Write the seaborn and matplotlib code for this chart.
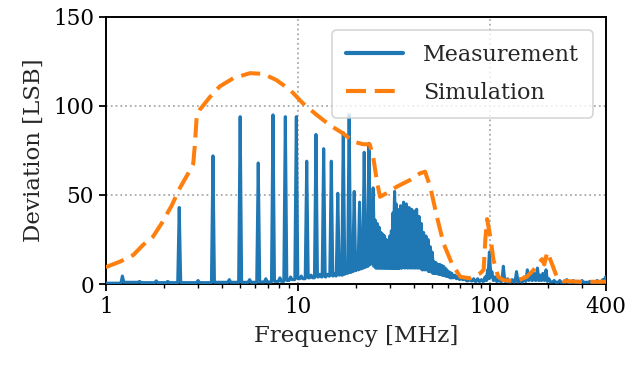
import numpy as np
import pandas as pd
import matplotlib
matplotlib.use("Agg")
import matplotlib.pyplot as plt
import seaborn as sns
from matplotlib.ticker import NullFormatter

# ---- Measurement: spectral lines (MHz) with peak deviation and the floor level after each line
meas_peak_freq = [1.22, 1.50, 1.83, 2.10, 2.41, 3.02, 3.61, 4.39, 5.00, 5.60, 6.21, 6.80, 7.41, 8.05,
                  8.59, 9.15, 9.80, 10.4, 11.1, 11.7, 12.4, 13.0, 13.6, 14.2, 14.9, 15.5, 16.1, 16.7,
                  17.2, 17.8, 18.45, 19.0, 19.6, 20.3, 20.9, 21.5, 22.1, 22.75, 23.4, 24.0, 24.6,
                  25.2, 25.8, 26.4, 27.0, 27.6, 28.2, 28.8, 29.4, 30.0, 30.6, 31.2, 31.8, 32.4, 33.0,
                  33.6, 34.2, 35.4, 36.6, 37.8, 39.0, 40.2, 41.4,
                  42.6, 43.8, 45.0, 46.3, 47.5, 48.7, 49.9, 51.1, 52.3, 53.5, 54.7, 55.9, 57.1, 58.3,
                  59.5, 60.7, 61.9, 63.1, 65.5, 68.0, 70.5,
                  74, 78, 82, 86, 90, 94, 97, 99, 102, 106, 111, 117, 123, 130, 137, 143, 150, 156,
                  162, 169, 176, 182, 188, 195, 202, 215, 230, 250, 270, 300, 330, 360, 385, 398]
meas_peak_dev = [4.5, 1.5, 1.8, 1.5, 43, 2.0, 72, 2.5, 94, 2.5, 68, 3.0, 95, 3.5,
                 94, 4.0, 94, 4.5, 69, 5, 84, 5.5, 76, 5.5, 69, 6, 51, 6.5,
                 85, 7, 95, 8, 52, 9, 46, 10, 74, 12, 79, 15, 54,
                 36, 34, 32, 29, 28, 27, 25, 24, 27, 30, 40, 52, 45, 42,
                 40, 44, 46, 45, 43, 42, 41, 42,
                 38, 34, 29, 27, 25, 21, 18, 12.5, 12, 11, 11, 10.5, 10, 9,
                 8, 7, 6.5, 6, 5, 4.5, 4,
                 3.5, 3.5, 3, 3, 2.5, 4, 8, 18, 7, 4, 3.5, 10, 3, 2.5, 7, 3, 4, 8,
                 5, 6, 9, 5, 6, 8, 3, 2, 2, 2.5, 2, 2, 1.5, 2, 2.5, 4]
meas_floor_dev = [1.0, 0.8, 0.8, 0.8, 0.8, 0.8, 1.0, 1.0, 1.0, 1.0, 1.2, 1.2, 1.5, 1.5,
                  2.0, 2.5, 3.0, 3.0, 3.5, 3.5, 4, 4, 4, 4.5, 4.5, 4.5, 5, 5,
                  5.5, 6, 6.5, 7, 7.5, 8, 8.5, 9, 9.5, 10, 11, 12, 10,
                  9, 9, 9, 9, 9, 9, 9, 9, 9, 9, 9, 9, 9, 9,
                  9, 9, 9, 9, 9, 9, 9, 9,
                  9, 8, 8, 8, 7, 7, 6, 6, 6, 5.5, 5.5, 5, 5, 4.5,
                  4.5, 4, 3.5, 3.5, 3, 2.5, 2.5,
                  1.8, 1.8, 1.5, 1.5, 1.5, 2, 3, 4, 2, 1.5, 1.5, 1.5, 1.2, 1.2, 1.2, 1.2, 1.5, 2,
                  2, 2, 2, 2, 2, 1.5, 1.2, 1.0, 1.0, 1.0, 1.0, 1.0, 1.0, 1.0, 1.5, 3]
meas_start_dev = 0.5

# ---- Simulation curve
sim_freq = [1.0, 1.18, 1.39, 1.56, 1.76, 1.95, 2.20, 2.43, 2.68, 2.85, 2.91, 2.97, 3.09, 3.48, 3.92,
            4.61, 5.63, 6.6, 7.7, 9.1, 10.6, 12.5, 14.6, 17.2, 19.4, 21.8, 23.6, 24.6, 25.7, 26.7,
            28.9, 32.7, 38.2, 43.2, 45.8, 48.7, 52.8, 57.1, 63.1, 69.8, 78.6, 88.6, 92.4, 94.3, 96.3,
            100, 104, 110, 117, 137, 155, 168, 178, 186, 191, 198, 209, 222, 240, 294, 400]
sim_dev = [9.5, 12.5, 16.3, 21.9, 26.6, 34, 44, 54, 62, 67.5, 79, 94, 98, 105, 111,
           115.6, 118.4, 118, 114.6, 109, 101.5, 95, 89.3, 84.5, 80, 78.5, 78.5, 71.5, 58, 49,
           51, 54.7, 58.4, 62.2, 63.1, 54.7, 37.8, 22.9, 11.6, 4.1, 3.2, 6, 8, 25, 36.5,
           26.6, 13.5, 4.1, 2.2, 1.7, 4.1, 7.9, 11.6, 14, 11, 18, 11.6, 4.1, 1.7, 1.3, 1.3]

x_ticks = [1, 10, 100, 400]
x_tick_labels = ["1", "10", "100", "400"]
y_ticks = [0, 50, 100, 150]

# ---- build measurement polyline from the line list (narrow spikes)
half_width = 0.018
mx, my = [1.0], [meas_start_dev]
prev_floor = meas_start_dev
for f, p, fl in zip(meas_peak_freq, meas_peak_dev, meas_floor_dev):
    mx += [f * (1 - half_width), f, f * (1 + half_width)]
    my += [prev_floor, p, fl]
    prev_floor = fl
mx.append(400.0)
my.append(prev_floor)

meas_df = pd.DataFrame({"freq": mx, "dev": my, "series": "Measurement"})
sim_df = pd.DataFrame({"freq": sim_freq, "dev": sim_dev, "series": "Simulation"})

sns.set_theme(style="ticks")
plt.rcParams["font.family"] = ["DejaVu Serif"]
plt.rcParams["mathtext.fontset"] = "dejavuserif"

fig, ax = plt.subplots(figsize=(6.26, 3.67), dpi=100)
fig.subplots_adjust(left=0.169, right=0.968, bottom=0.226, top=0.954)

sns.lineplot(data=meas_df, x="freq", y="dev", ax=ax, color="#1f77b4", lw=2.2,
             estimator=None, sort=False, label="Measurement", zorder=3)
sns.lineplot(data=sim_df, x="freq", y="dev", ax=ax, color="#ff7f0e", lw=2.9,
             estimator=None, sort=False, label="Simulation", zorder=4)
ax.lines[-1].set_dashes((4.8, 2.1))

ax.set_xscale("log")
ax.set_xlim(1, 400)
ax.set_ylim(0, 150)
ax.set_xticks(x_ticks)
ax.set_xticklabels(x_tick_labels)
ax.xaxis.set_minor_formatter(NullFormatter())
ax.set_yticks(y_ticks)

ax.grid(True, which="major", linestyle=":", color="#aaaaaa", linewidth=1.3)
ax.set_axisbelow(True)

for s in ax.spines.values():
    s.set_visible(True)
    s.set_linewidth(1.4)
    s.set_color("black")
ax.tick_params(which="major", direction="out", length=5, width=1.3, labelsize=15.5, colors="black")
ax.tick_params(which="minor", direction="out", length=3, width=1.0, colors="black")

ax.set_xlabel("Frequency [MHz]", fontsize=16.5, labelpad=5)
ax.set_ylabel("Deviation [LSB]", fontsize=16.5, labelpad=6)

leg = ax.legend(loc="upper right", fontsize=16, handlelength=2.6, frameon=True,
                fancybox=True, framealpha=0.8, edgecolor="#cccccc", borderpad=0.6,
                labelspacing=0.75, handletextpad=0.9, borderaxespad=0.6)
leg.get_frame().set_linewidth(1.2)
for h in leg.get_lines():
    h.set_linewidth(3.0)

fig.savefig("out.png", dpi=100)
